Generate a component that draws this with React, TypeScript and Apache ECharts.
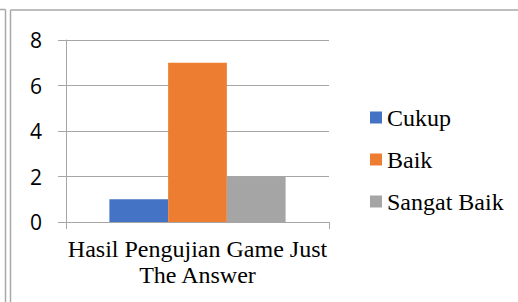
import React, { useEffect, useRef } from "react";
import * as echarts from "echarts";

const categories = ["Hasil Pengujian Game Just\nThe Answer"];
const seriesNames = ["Cukup", "Baik", "Sangat Baik"];
const cukupValues = [1];
const baikValues = [7];
const sangatBaikValues = [2];
const yTicks = [0, 2, 4, 6, 8];
const colors = ["#4472C4", "#ED7D31", "#A5A5A5"];

export default function App() {
  const ref = useRef<HTMLDivElement>(null);
  useEffect(() => {
    document.body.style.margin = "0";
    const chart = echarts.init(ref.current!, null, { renderer: "svg" });
    const frame = "#a9a9a9";
    chart.setOption({
      animation: false,
      backgroundColor: "#ffffff",
      grid: { left: 66, right: 189, top: 40, bottom: 80, containLabel: false },
      xAxis: {
        type: "category",
        data: categories,
        axisLine: { show: true, lineStyle: { color: "#a6a6a6", width: 1 } },
        axisTick: { show: true, length: 7, lineStyle: { color: "#a6a6a6" } },
        axisLabel: {
          fontFamily: "Liberation Serif",
          fontSize: 24,
          lineHeight: 26,
          color: "#000",
          margin: 14,
        },
      },
      yAxis: {
        type: "value",
        min: yTicks[0],
        max: yTicks[yTicks.length - 1],
        interval: 2,
        axisLine: { show: true, lineStyle: { color: "#a6a6a6", width: 1 } },
        axisTick: { show: true, length: 8, lineStyle: { color: "#a6a6a6" } },
        splitLine: { show: true, lineStyle: { color: "#a6a6a6", width: 1 } },
        axisLabel: {
          fontFamily: "Open Sans",
          fontSize: 21,
          color: "#000",
          margin: 24,
        },
      },
      legend: {
        orient: "vertical",
        left: 370,
        top: 105.5,
        padding: 0,
        itemWidth: 12,
        itemHeight: 12,
        itemGap: 18,
        icon: "rect",
        data: seriesNames,
        textStyle: {
          fontFamily: "Liberation Serif",
          fontSize: 24,
          lineHeight: 24,
          color: "#000",
        },
      },
      series: [
        { name: seriesNames[0], type: "bar", data: cukupValues, itemStyle: { color: colors[0] }, barGap: "0%", barCategoryGap: "33%" },
        { name: seriesNames[1], type: "bar", data: baikValues, itemStyle: { color: colors[1] }, barGap: "0%", barCategoryGap: "33%" },
        { name: seriesNames[2], type: "bar", data: sangatBaikValues, itemStyle: { color: colors[2] }, barGap: "0%", barCategoryGap: "33%" },
      ],
      graphic: [
        { type: "line", shape: { x1: 0, y1: 9.5, x2: 5.5, y2: 9.5 }, style: { stroke: frame, lineWidth: 1.5 } },
        { type: "line", shape: { x1: 5.5, y1: 9.5, x2: 5.5, y2: 302 }, style: { stroke: frame, lineWidth: 1.5 } },
        { type: "line", shape: { x1: 10.5, y1: 10, x2: 10.5, y2: 302 }, style: { stroke: frame, lineWidth: 1.5 } },
        { type: "line", shape: { x1: 10.5, y1: 10, x2: 518, y2: 10 }, style: { stroke: frame, lineWidth: 1.5 } },
      ],
    });
    return () => chart.dispose();
  }, []);
  return <div ref={ref} style={{ width: 518, height: 302 }} />;
}
